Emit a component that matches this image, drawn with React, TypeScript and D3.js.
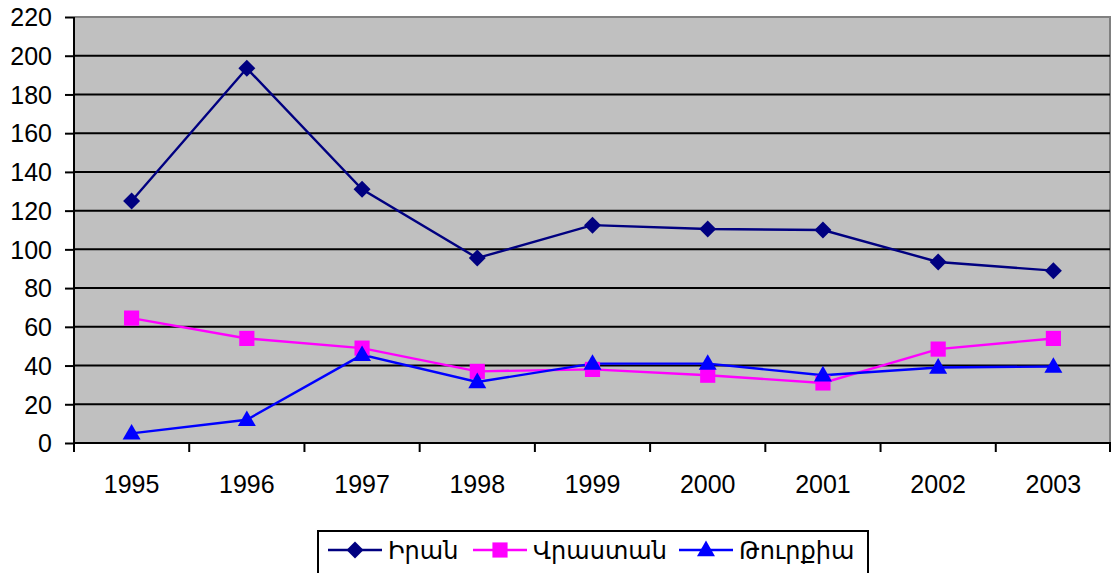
import React, { useEffect, useRef } from "react";
import * as d3 from "d3";

const years = ["1995", "1996", "1997", "1998", "1999", "2000", "2001", "2002", "2003"];
const iran = [125, 193.5, 131, 95.5, 112.5, 110.5, 110, 93.5, 89];
const georgia = [64.5, 54, 49, 37, 38, 35, 31, 48.5, 54];
const turkey = [5, 12, 45.5, 31.5, 41, 41, 35, 39, 39.5];
const yTicks = [0, 20, 40, 60, 80, 100, 120, 140, 160, 180, 200, 220];

const seriesNames = ["Իրան", "Վրաստան", "Թուրքիա"];
const seriesColors = ["#000080", "#FF00FF", "#0000FF"];

const FONT = "'Liberation Sans', Arial, 'DejaVu Sans', sans-serif";

// marker path + extra transform per series (diamond = rotated square)
const markerPath = (s: number) => {
  if (s === 0) return d3.symbol().type(d3.symbolSquare).size(144)();
  if (s === 1) return d3.symbol().type(d3.symbolSquare).size(230)();
  return d3.symbol().type(d3.symbolTriangle).size(140)();
};
const markerExtra = (s: number) => (s === 0 ? " rotate(45)" : s === 2 ? " translate(0,1)" : "");

const App = () => {
  const svgRef = useRef<SVGSVGElement>(null);

  useEffect(() => {
    const width = 1111, height = 573;
    const plot = { left: 74, top: 17, right: 1110, bottom: 443 };

    const svg = d3.select(svgRef.current);
    svg.selectAll("*").remove();
    svg.attr("width", width).attr("height", height);

    const x = d3.scaleBand().domain(years).range([plot.left, plot.right + 1]).padding(0);
    const y = d3.scaleLinear().domain([0, 220]).range([plot.bottom, plot.top]);

    // plot background
    svg.append("rect")
      .attr("x", plot.left).attr("y", plot.top)
      .attr("width", plot.right - plot.left).attr("height", plot.bottom - plot.top)
      .attr("fill", "#C0C0C0");
    // gray border top/right
    svg.append("path")
      .attr("d", `M${plot.left},${plot.top}H${plot.right}V${plot.bottom}`)
      .attr("fill", "none")
      .attr("stroke", "#808080")
      .attr("stroke-width", 2);

    // gridlines
    svg.append("g")
      .selectAll("line")
      .data(yTicks.filter(d => d > 0 && d < 220))
      .enter()
      .append("line")
      .attr("x1", plot.left).attr("x2", plot.right)
      .attr("y1", d => y(d)).attr("y2", d => y(d))
      .attr("stroke", "#000").attr("stroke-width", 2);

    // y axis
    const yAxis = svg.append("g")
      .attr("transform", `translate(${plot.left},0)`)
      .call(d3.axisLeft(y).tickValues(yTicks).tickSize(9).tickPadding(13));
    yAxis.select(".domain").attr("stroke-width", 2).attr("d", `M0,${plot.top}V${plot.bottom}`);
    yAxis.selectAll(".tick line").attr("stroke-width", 2);
    yAxis.selectAll("text")
      .attr("font-family", FONT).attr("font-size", 25).attr("fill", "#000")
      .attr("x", -22)
      .attr("dy", "0.35em");

    // x axis
    const xAxis = svg.append("g").attr("transform", `translate(0,${plot.bottom})`);
    xAxis.append("line")
      .attr("x1", plot.left).attr("x2", plot.right + 1)
      .attr("stroke", "#000").attr("stroke-width", 2);
    xAxis.selectAll(".xt")
      .data(years.concat(["end"]))
      .enter()
      .append("line")
      .attr("x1", (d, i) => (i < years.length ? x(d)! : plot.right))
      .attr("x2", (d, i) => (i < years.length ? x(d)! : plot.right))
      .attr("y1", 0).attr("y2", 9)
      .attr("stroke", "#000").attr("stroke-width", 2);
    xAxis.selectAll(".xl")
      .data(years)
      .enter()
      .append("text")
      .attr("x", d => x(d)! + x.bandwidth() / 2)
      .attr("y", 50)
      .attr("text-anchor", "middle")
      .attr("font-family", FONT).attr("font-size", 25)
      .text(d => d);

    const cx = (i: number) => x(years[i])! + x.bandwidth() / 2;
    const allSeries = [iran, georgia, turkey];
    const line = d3.line<number>().x((d, i) => cx(i)).y(d => y(d));

    allSeries.forEach((vals, s) => {
      svg.append("path")
        .datum(vals)
        .attr("d", line)
        .attr("fill", "none")
        .attr("stroke", seriesColors[s])
        .attr("stroke-width", 2.4);
    });
    allSeries.forEach((vals, s) => {
      svg.append("g")
        .selectAll("path")
        .data(vals)
        .enter()
        .append("path")
        .attr("d", markerPath(s))
        .attr("transform", (d, i) => `translate(${cx(i)},${y(d)})` + markerExtra(s))
        .attr("fill", seriesColors[s]);
    });

    // legend
    const legend = svg.append("g");
    legend.append("rect")
      .attr("x", 318).attr("y", 531)
      .attr("width", 550).attr("height", 60)
      .attr("fill", "#fff").attr("stroke", "#000").attr("stroke-width", 2);
    const itemX = [328, 473, 679];
    seriesNames.forEach((name, s) => {
      const g = legend.append("g").attr("transform", `translate(${itemX[s]},550)`);
      g.append("line").attr("x1", 0).attr("x2", 54)
        .attr("stroke", seriesColors[s]).attr("stroke-width", 2.4);
      g.append("path")
        .attr("d", markerPath(s))
        .attr("transform", "translate(27,0)" + markerExtra(s))
        .attr("fill", seriesColors[s]);
      g.append("text")
        .attr("x", 60).attr("y", 9)
        .attr("font-family", FONT).attr("font-size", 24)
        .text(name);
    });
  }, []);

  return (
    <svg
      ref={svgRef}
      style={{ position: "absolute", left: 0, top: 0, display: "block", background: "#fff" }}
    />
  );
};

export default App;
